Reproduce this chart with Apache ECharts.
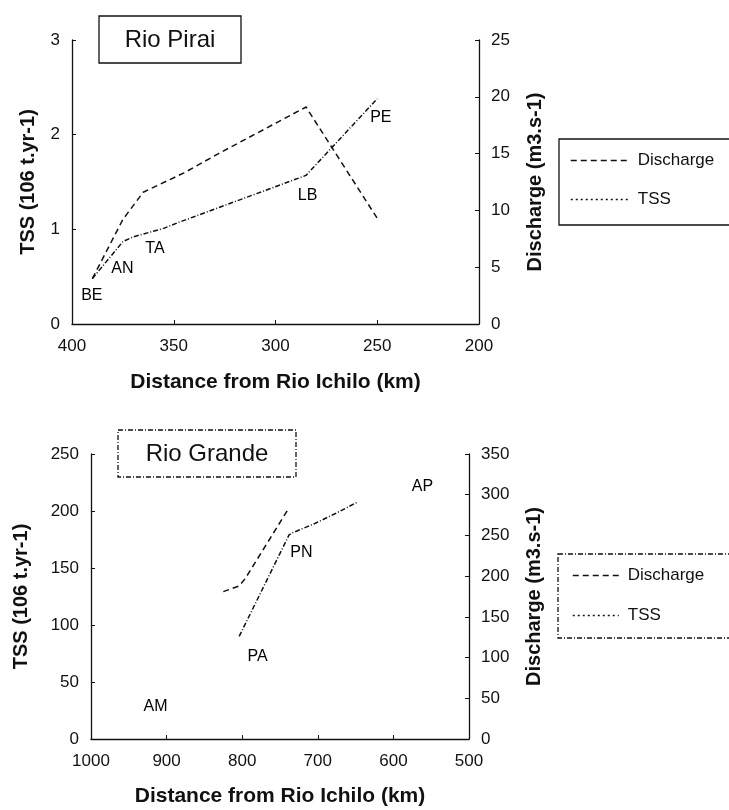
<!DOCTYPE html>
<html lang="en">
<head>
<meta charset="UTF-8">
<title>Rio Pirai / Rio Grande</title>
<script src="https://cdn.jsdelivr.net/npm/echarts@6/dist/echarts.min.js"></script>
<style>
  html, body { margin: 0; padding: 0; background: #fff; }
  #chart { width: 729px; height: 810px; }
</style>
</head>
<body>
<div id="chart"></div>
<script>
// Rio Pirai (top): distance (km) vs discharge (m3/s) and TSS
const piraiDischarge = [[390, 4.0], [375, 9.2], [365, 11.6], [345, 13.3], [328, 15.0], [285, 19.1], [250, 9.3]];
const piraiTss = [[390, 0.48], [375, 0.87], [370, 0.92], [355, 1.01], [348, 1.07], [285, 1.57], [250, 2.38]];
const piraiStations = [[390, 0.30, 'BE'], [375, 0.58, 'AN'], [359, 0.79, 'TA'], [284, 1.35, 'LB'], [248, 2.17, 'PE']];

// Rio Grande (bottom)
const grandeDischarge = [[825, 181], [804, 188], [796, 197], [738, 284]];
const grandeTss = [[804, 90], [738, 179], [733, 181], [704, 189], [676, 198], [647, 208]];
const grandeStations = [[914, 28, 'AM'], [779, 72, 'PA'], [721, 163, 'PN'], [561, 221, 'AP']];

const FONT = 'Liberation Sans, Arial, sans-serif';
const dischargeDash = [6, 4];
const tssDash = [5, 2, 1, 2];

const chart = echarts.init(document.getElementById('chart'), null, { renderer: 'canvas' });

function xAxis(grid, min, max, interval, gap) {
  return {
    type: 'value', gridIndex: grid, inverse: true, min: min, max: max, interval: interval,
    name: 'Distance from Rio Ichilo (km)', nameLocation: 'middle', nameGap: gap,
    nameTextStyle: { fontFamily: FONT, fontSize: 21, fontWeight: 'bold', color: '#111' },
    axisLine: { lineStyle: { color: '#111', width: 1.3 } },
    axisTick: { show: true, inside: true, length: 4, lineStyle: { color: '#111' } },
    axisLabel: { fontFamily: FONT, fontSize: 17, color: '#111', margin: 14, formatter: v => String(v) },
    splitLine: { show: false }
  };
}

function yAxis(grid, pos, min, max, interval, name, gap) {
  return {
    type: 'value', gridIndex: grid, position: pos, min: min, max: max, interval: interval,
    name: name, nameLocation: 'middle', nameGap: gap, nameRotate: 90,
    nameTextStyle: { fontFamily: FONT, fontSize: 20, fontWeight: 'bold', color: '#111' },
    axisLine: { show: true, lineStyle: { color: '#111', width: 1.3 } },
    axisTick: { show: true, inside: true, length: 4, lineStyle: { color: '#111' } },
    axisLabel: { fontFamily: FONT, fontSize: 17, color: '#111', margin: 12 },
    splitLine: { show: false }
  };
}

function line(name, data, xi, yi, dash) {
  return {
    name: name, type: 'line', data: data, xAxisIndex: xi, yAxisIndex: yi,
    symbol: 'none', silent: true, animation: false,
    itemStyle: { color: '#111' },
    lineStyle: { color: '#111', width: 1.5, type: dash }
  };
}

function stations(data, xi, yi) {
  return {
    type: 'scatter', data: data, xAxisIndex: xi, yAxisIndex: yi,
    symbolSize: 1, itemStyle: { color: 'rgba(0,0,0,0)' }, silent: true, animation: false,
    label: {
      show: true, position: [0, 0], align: 'center', verticalAlign: 'middle',
      formatter: p => p.data[2],
      fontFamily: FONT, fontSize: 16, color: '#000', opacity: 1,
      textBorderWidth: 0, textBorderColor: 'transparent'
    }
  };
}

function legend(left, top, gap, width) {
  return {
    left: left, top: top, orient: 'vertical', itemGap: gap, itemWidth: width, itemHeight: 14,
    selectedMode: false,
    itemStyle: { opacity: 0 },
    textStyle: { fontFamily: FONT, fontSize: 17, color: '#111', padding: [0, 0, 0, 4] },
    data: [
      { name: 'Discharge', itemStyle: { opacity: 0 }, lineStyle: { color: '#111', width: 1.5, type: dischargeDash } },
      { name: 'TSS', itemStyle: { opacity: 0 }, lineStyle: { color: '#111', width: 1.5, type: [2, 3] } }
    ]
  };
}

function box(x, y, w, h, dash) {
  return {
    type: 'rect', shape: { x: x, y: y, width: w, height: h },
    style: { fill: 'none', stroke: '#111', lineWidth: 1.3, lineDash: dash }, silent: true
  };
}

function boxText(x, y, text) {
  return {
    type: 'text', x: x, y: y,
    style: { text: text, fontFamily: FONT, fontSize: 24, fill: '#111', align: 'center', verticalAlign: 'middle' }
  };
}

chart.setOption({
  backgroundColor: '#fff',
  animation: false,
  grid: [
    { left: 72, top: 40, width: 407, height: 284 },
    { left: 91, top: 454, width: 378, height: 285 }
  ],
  xAxis: [xAxis(0, 200, 400, 50, 48), xAxis(1, 500, 1000, 100, 47)],
  yAxis: [
    yAxis(0, 'left', 0, 3, 1, 'TSS (106 t.yr-1)', 34),
    yAxis(0, 'right', 0, 25, 5, 'Discharge (m3.s-1)', 46),
    yAxis(1, 'left', 0, 250, 50, 'TSS (106 t.yr-1)', 60),
    yAxis(1, 'right', 0, 350, 50, 'Discharge (m3.s-1)', 55)
  ],
  legend: [legend(565, 147, 22, 58), legend(567, 562, 23, 46)],
  series: [
    line('Discharge', piraiDischarge, 0, 1, dischargeDash),
    line('TSS', piraiTss, 0, 0, tssDash),
    stations(piraiStations, 0, 0),
    line('Discharge', grandeDischarge, 1, 3, dischargeDash),
    line('TSS', grandeTss, 1, 2, tssDash),
    stations(grandeStations, 1, 2)
  ],
  graphic: [
    box(99, 16, 142, 47, null),
    boxText(170, 40, 'Rio Pirai'),
    box(118, 430, 178, 47, [5, 2, 1, 2]),
    boxText(207, 454, 'Rio Grande'),
    box(559, 139, 185, 86, null),
    box(558, 554, 185, 84, [5, 2, 1, 2])
  ]
});
</script>
</body>
</html>
